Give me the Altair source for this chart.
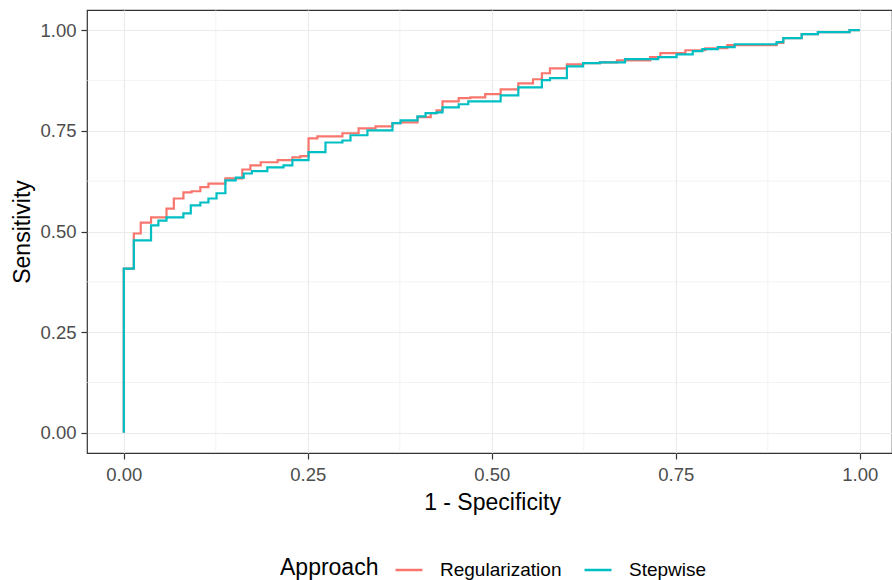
import altair as alt
import pandas as pd

# Regularization ROC (1 - specificity, sensitivity) step points
reg_fpr = [0.0, 0.0, 0.0136, 0.023, 0.037, 0.058, 0.068, 0.081, 0.092, 0.104, 0.115, 0.138,
           0.161, 0.172, 0.186, 0.209, 0.229, 0.240, 0.251, 0.263, 0.297, 0.319, 0.342, 0.365,
           0.376, 0.399, 0.417, 0.425, 0.433, 0.455, 0.471, 0.491, 0.512, 0.536, 0.556, 0.568,
           0.579, 0.602, 0.624, 0.647, 0.670, 0.715, 0.729, 0.763, 0.790, 0.820, 0.887, 0.896,
           0.921, 0.943, 0.986, 1.0]
reg_tpr = [0.0, 0.408, 0.495, 0.522, 0.535, 0.557, 0.582, 0.597, 0.600, 0.610, 0.619, 0.632,
           0.654, 0.664, 0.672, 0.677, 0.684, 0.687, 0.731, 0.736, 0.744, 0.756, 0.761, 0.769,
           0.771, 0.784, 0.794, 0.801, 0.823, 0.831, 0.833, 0.841, 0.853, 0.868, 0.878, 0.893,
           0.905, 0.915, 0.918, 0.920, 0.925, 0.933, 0.943, 0.950, 0.955, 0.963, 0.968, 0.980,
           0.990, 0.995, 1.0, 1.0]

# Stepwise ROC step points
step_fpr = [0.0, 0.0, 0.0136, 0.037, 0.047, 0.058, 0.081, 0.091, 0.104, 0.115, 0.126, 0.138,
            0.152, 0.163, 0.174, 0.195, 0.217, 0.229, 0.251, 0.274, 0.297, 0.308, 0.331, 0.365,
            0.376, 0.399, 0.410, 0.425, 0.433, 0.455, 0.468, 0.512, 0.536, 0.568, 0.579, 0.602,
            0.624, 0.647, 0.681, 0.726, 0.751, 0.773, 0.786, 0.807, 0.830, 0.887, 0.896, 0.921,
            0.943, 0.986, 1.0]
step_tpr = [0.0, 0.408, 0.478, 0.515, 0.527, 0.535, 0.545, 0.565, 0.572, 0.582, 0.595, 0.627,
            0.634, 0.644, 0.650, 0.659, 0.664, 0.677, 0.697, 0.721, 0.726, 0.739, 0.751, 0.769,
            0.776, 0.786, 0.794, 0.796, 0.808, 0.816, 0.823, 0.838, 0.858, 0.876, 0.881, 0.910,
            0.918, 0.920, 0.928, 0.933, 0.940, 0.948, 0.953, 0.958, 0.965, 0.970, 0.980, 0.990,
            0.995, 1.0, 1.0]

approaches = ["Regularization", "Stepwise"]
colors = ["#F8766D", "#00BFC4"]
major_ticks = [0.0, 0.25, 0.5, 0.75, 1.0]
minor_ticks = [0.125, 0.375, 0.625, 0.875]

rows = []
for i, (x, y) in enumerate(zip(reg_fpr, reg_tpr)):
    rows.append({"Approach": approaches[0], "fpr": x, "tpr": y, "order": i})
for i, (x, y) in enumerate(zip(step_fpr, step_tpr)):
    rows.append({"Approach": approaches[1], "fpr": x, "tpr": y, "order": i})
df = pd.DataFrame(rows)

FONT = "Liberation Sans"
xscale = alt.Scale(domain=[-0.05, 1.0437], nice=False, zero=False)
yscale = alt.Scale(domain=[-0.05, 1.05], nice=False, zero=False)

x_axis = alt.Axis(values=major_ticks, format=".2f", title="1 - Specificity",
                  grid=True, gridColor="#EBEBEB", gridWidth=1.2,
                  domain=False, tickColor="#333333", tickWidth=1.2, tickSize=6,
                  labelFont=FONT, labelFontSize=18.5, labelColor="#4D4D4D",
                  labelBaseline="alphabetic", labelPadding=21,
                  titleFont=FONT, titleFontSize=23, titleFontWeight="normal",
                  titleColor="#000000", titleX=405, titleY=56,
                  titleBaseline="alphabetic")
y_axis = alt.Axis(values=major_ticks, format=".2f", title="Sensitivity",
                  grid=True, gridColor="#EBEBEB", gridWidth=1.2,
                  domain=False, tickColor="#333333", tickWidth=1.2, tickSize=6,
                  labelFont=FONT, labelFontSize=18.5, labelColor="#4D4D4D",
                  labelPadding=5,
                  titleFont=FONT, titleFontSize=23, titleFontWeight="normal",
                  titleColor="#000000", titleX=-58, titleY=221.5,
                  titleAngle=270, titleBaseline="alphabetic")

minor_df = pd.DataFrame({"fpr": minor_ticks, "tpr": minor_ticks})
minor_x = alt.Chart(minor_df).mark_rule(color="#EBEBEB", strokeWidth=0.6).encode(
    x=alt.X("fpr:Q", scale=xscale, axis=x_axis))
minor_y = alt.Chart(minor_df).mark_rule(color="#EBEBEB", strokeWidth=0.6).encode(
    y=alt.Y("tpr:Q", scale=yscale, axis=y_axis))

lines = alt.Chart(df).mark_line(interpolate="step-after", strokeWidth=2.2).encode(
    x=alt.X("fpr:Q", scale=xscale, axis=x_axis),
    y=alt.Y("tpr:Q", scale=yscale, axis=y_axis),
    color=alt.Color("Approach:N", scale=alt.Scale(domain=approaches, range=colors),
                    legend=alt.Legend(orient="none", legendX=193, legendY=545,
                                      direction="horizontal", titleOrient="left",
                                      title="Approach", titleFont=FONT, titleFontSize=23,
                                      titleFontWeight="normal", titleColor="#000000",
                                      titlePadding=15, labelFont=FONT, labelFontSize=19,
                                      labelColor="#000000", labelOffset=16,
                                      columnPadding=17, symbolType="stroke",
                                      symbolSize=729, symbolStrokeWidth=2.5)),
    order="order:Q",
)

chart = alt.layer(minor_x, minor_y, lines).properties(
    width=805, height=443,
    autosize=alt.AutoSizeParams(type="none"),
    padding={"left": 87, "top": 10, "right": 0, "bottom": 127},
    background="white",
).configure_view(stroke="#333333", strokeWidth=1.2)

chart.save("out.html", embed_options={"renderer": "svg", "actions": False})
